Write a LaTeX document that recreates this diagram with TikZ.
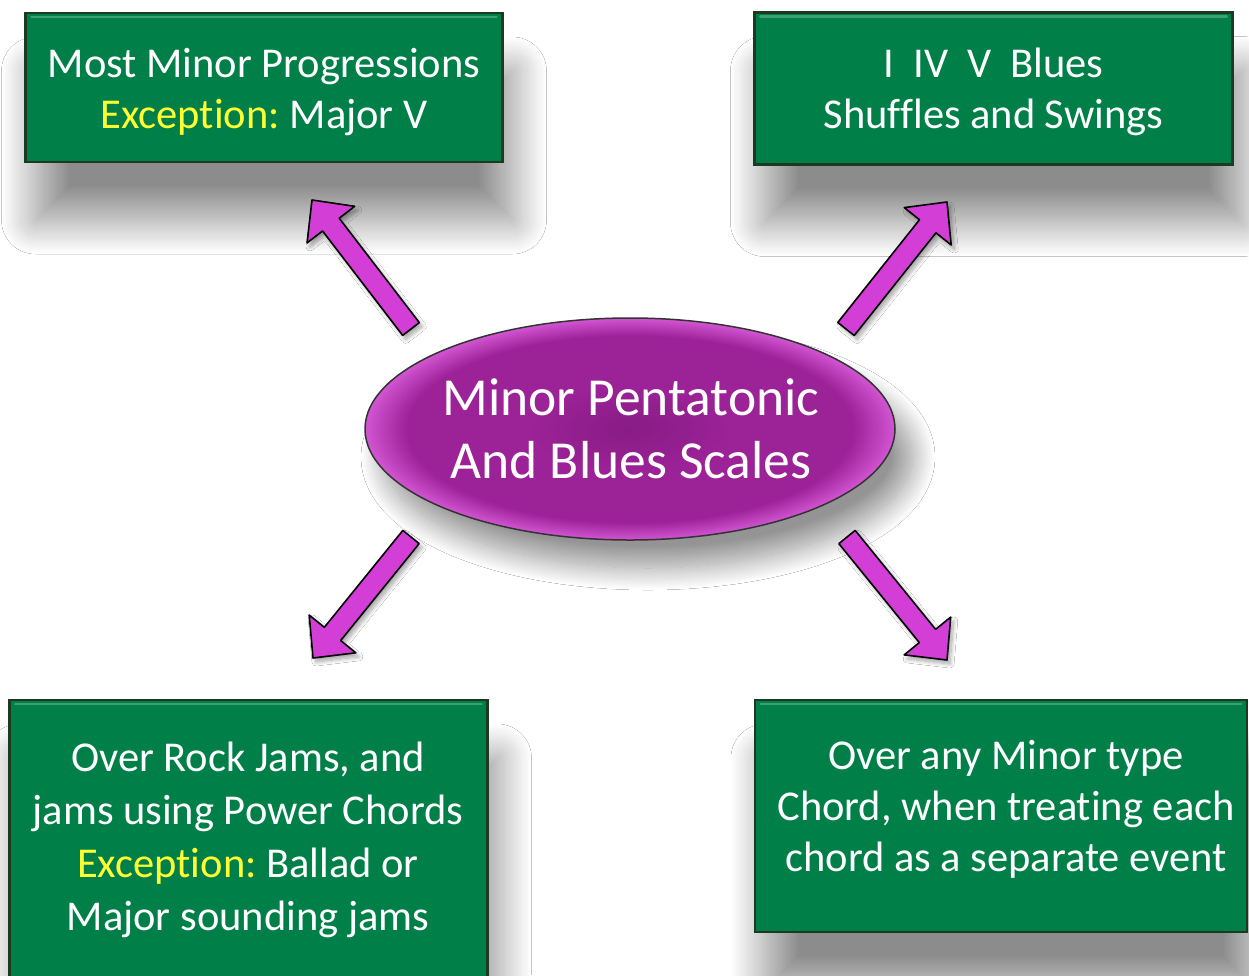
\documentclass[tikz,border=0pt]{standalone}
\usepackage{fontspec}
\setmainfont{Carlito}[Ligatures={NoCommon}]
\usetikzlibrary{calc,shapes.geometric,shadows.blur}
\definecolor{boxgreen}{RGB}{0,128,72}
\definecolor{boxedge}{RGB}{28,58,32}
\definecolor{boxhi}{RGB}{60,160,112}
\definecolor{exyellow}{RGB}{255,255,51}
\definecolor{arrowmag}{RGB}{210,62,214}
\definecolor{pdark}{RGB}{136,28,132}
\definecolor{pmid}{RGB}{156,34,152}
\definecolor{plight}{RGB}{210,85,210}
\pgfdeclareradialshading{ellshade}{\pgfpoint{0bp}{0bp}}{color(0bp)=(pdark); color(10bp)=(pmid); color(21bp)=(pmid); color(25bp)=(plight); color(50bp)=(plight)}
\newcommand\ex[1]{\textcolor{exyellow}{#1}}
\newcommand\fatarrow[2]{%
  \coordinate (#1-b) at ($(#2)!31pt!(#1)$);
  \draw[magarrow] ($(#1)!10.5pt!90:(#2)$) -- ($(#1-b)!10.5pt!90:(#2)$) -- ($(#1-b)!30pt!90:(#2)$) -- (#2) -- ($(#1-b)!30pt!-90:(#2)$) -- ($(#1-b)!10.5pt!-90:(#2)$) -- ($(#1)!10.5pt!-90:(#2)$) -- cycle;
}
\newcommand\bevel[1]{%
  \draw[boxhi, line width=2.5pt, line cap=round] ([xshift=7pt,yshift=-5pt]#1.north west) -- ([xshift=-7pt,yshift=-5pt]#1.north east);
}
\tikzset{
  greenbox/.style={draw=boxedge, line width=2.5pt, fill=boxgreen, inner sep=0pt,
    blur shadow={shadow xshift=10pt, shadow yshift=-58pt, shadow blur radius=34pt, shadow opacity=45, shadow blur steps=30}},
  boxtext/.style={text=white, font=\fontsize{42.5}{51}\selectfont, align=center, inner sep=0pt},
  magarrow/.style={fill=arrowmag, draw=black, line width=1.6pt, line join=round,
    blur shadow={shadow xshift=3pt, shadow yshift=-4pt, shadow blur radius=4pt, shadow opacity=35, shadow blur steps=10}},
  centre/.style={ellipse, draw=black!80, line width=1.5pt, shading=ellshade, inner sep=0pt,
    minimum width=530pt, minimum height=222pt,
    blur shadow={shadow xshift=18pt, shadow yshift=-28pt, shadow blur radius=22pt, shadow opacity=42, shadow blur steps=25}},
}
\begin{document}
\begin{tikzpicture}[x=1pt, y=-1pt]
\useasboundingbox (0,0) rectangle (1249,975);
\clip (0,0) rectangle (1249,975);
\fill[white] (0,0) rectangle (1249,975);

% boxes
\node[greenbox, minimum width=477pt, minimum height=149pt] (tl) at (264,87.5) {};
\node[greenbox, minimum width=478pt, minimum height=152pt] (tr) at (993.5,88.5) {};
\node[greenbox, minimum width=478pt, minimum height=300pt] (bl) at (248.5,850) {};
\node[greenbox, minimum width=492pt, minimum height=232pt] (br) at (1001,816) {};
\bevel{tl}\bevel{tr}\bevel{bl}\bevel{br}

\node[boxtext] (tlt) at (264,92) {Most Minor Progressions\\\ex{Exception:}~Major V};
\node[boxtext] (trt) at (993.5,91.5) {I\ \ IV\ \ V\ \ Blues\\Shuffles and Swings};
\node[boxtext, font=\fontsize{42.5}{53}\selectfont] (blt) at (248,840) {Over Rock Jams, and\\jams using Power Chords\\\ex{Exception:}~Ballad or\\Major sounding jams};
\node[boxtext] (brt) at (1006,809.5) {Over any Minor type\\Chord, when treating each\\chord as a separate event};

% centre
\node[centre] (c) at (630,429) {};
\node[boxtext, font=\fontsize{53.5}{63}\selectfont] (ct) at (631,428.5) {Minor Pentatonic\\And Blues Scales};

% arrows
\coordinate (a1) at (411,329); \coordinate (a1t) at (312,200);
\coordinate (a2) at (846,329); \coordinate (a2t) at (947,202);
\coordinate (a3) at (411,537); \coordinate (a3t) at (313,658);
\coordinate (a4) at (847,537); \coordinate (a4t) at (947,660);
\fatarrow{a1}{a1t}
\fatarrow{a2}{a2t}
\fatarrow{a3}{a3t}
\fatarrow{a4}{a4t}
\end{tikzpicture}
\end{document}
